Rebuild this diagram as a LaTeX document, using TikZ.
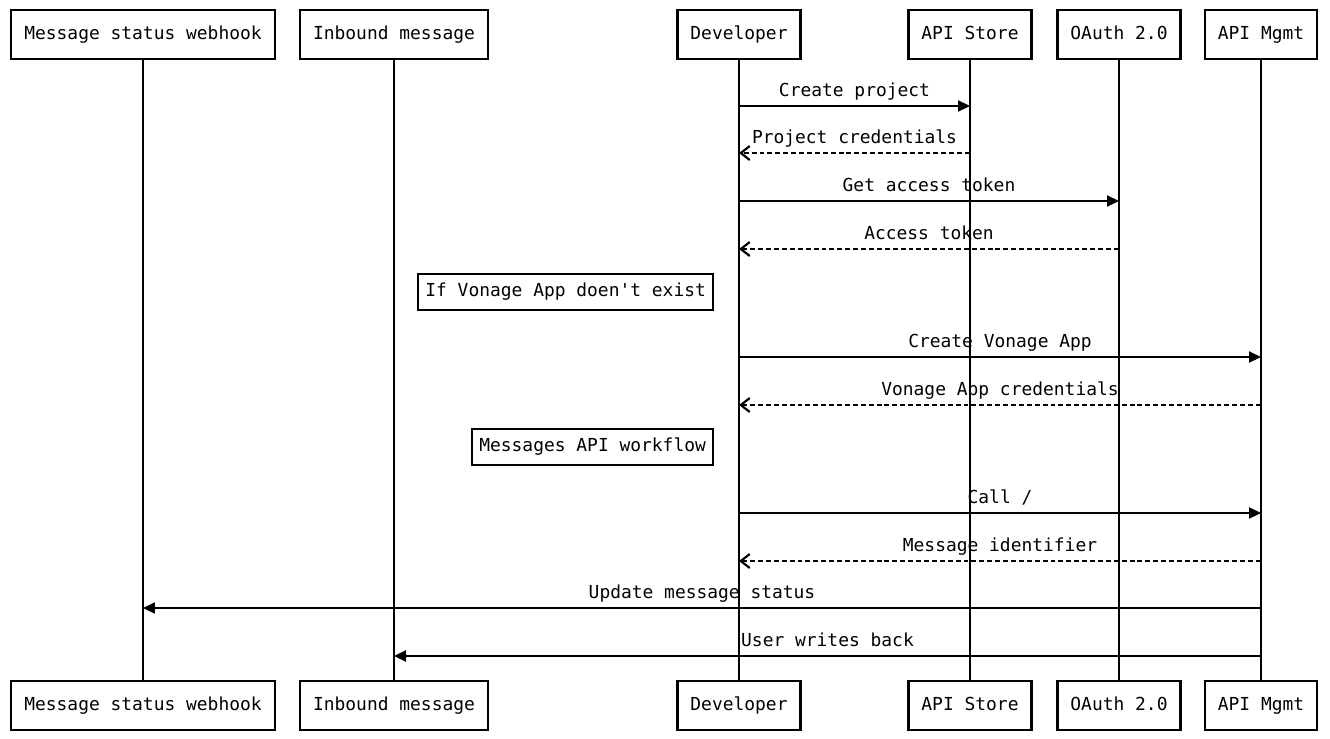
\documentclass[tikz,border=0pt]{standalone}
\usepackage{fontspec}
\setmonofont{DejaVu Sans Mono}
\usetikzlibrary{arrows.meta, positioning}

\begin{document}
\begin{tikzpicture}[x=0.02cm, y=-0.02cm, line width=1.25pt,
  font=\ttfamily\fontsize{10.2}{12}\selectfont,
  actor/.style={draw, fill=white, inner xsep=0.26cm, minimum height=0.98cm,
    text height=7.6pt, text depth=2.2pt},
  note/.style={draw, fill=white, inner xsep=0.14cm, minimum height=0.72cm, anchor=east,
    text height=7.6pt, text depth=2.2pt},
  call/.style={-{Triangle[length=2.4mm, width=2.2mm]}},
  reply/.style={dashed, dash pattern=on 2.8pt off 1.7pt, -{Straight Barb[length=1.8mm, width=2.8mm]}},
  lbl/.style={anchor=base, yshift=2mm, inner sep=0}]
  \useasboundingbox (0,0) rectangle (1330,738);
  % participants and lifelines
  \foreach \name/\x/\txt in {hook/143/Message status webhook, inbound/394/Inbound message,
      dev/739/Developer, store/970/API Store, oauth/1119/OAuth 2.0, mgmt/1261/API Mgmt} {
    \node[actor] (\name-top) at (\x,34.5) {\txt};
    \node[actor] (\name-bot) at (\x,705.5) {\txt};
    \draw (\name-top) -- (\name-bot);
  }
  % message rows
  \foreach \i/\y in {1/106, 2/153, 3/201, 4/249, 5/357, 6/405, 7/513, 8/561, 9/608, 10/656}
    \coordinate (r\i) at (0,\y);
  \draw[call] (dev-top |- r1) -- node[lbl] {Create project} (store-top |- r1);
  \draw[reply] (store-top |- r2) -- node[lbl] {Project credentials} (dev-top |- r2);
  \draw[call] (dev-top |- r3) -- node[lbl] {Get access token} (oauth-top |- r3);
  \draw[reply] (oauth-top |- r4) -- node[lbl] {Access token} (dev-top |- r4);
  \node[note] (exists) at (714,292) {If Vonage App doen't exist};
  \draw[call] (dev-top |- r5) -- node[lbl] {Create Vonage App} (mgmt-top |- r5);
  \draw[reply] (mgmt-top |- r6) -- node[lbl] {Vonage App credentials} (dev-top |- r6);
  \node[note] (workflow) at (714,447) {Messages API workflow};
  \draw[call] (dev-top |- r7) -- node[lbl] {Call /} (mgmt-top |- r7);
  \draw[reply] (mgmt-top |- r8) -- node[lbl] {Message identifier} (dev-top |- r8);
  \draw[call] (mgmt-top |- r9) -- node[lbl] {Update message status} (hook-top |- r9);
  \draw[call] (mgmt-top |- r10) -- node[lbl] {User writes back} (inbound-top |- r10);
\end{tikzpicture}
\end{document}
